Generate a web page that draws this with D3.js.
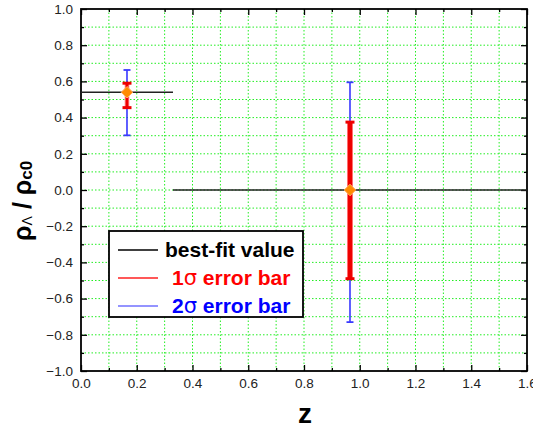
<!DOCTYPE html>
<html>
<head>
<meta charset="utf-8">
<script src="https://cdn.jsdelivr.net/npm/d3@7"></script>
<style>
  body { margin: 0; background: #fff; }
  svg { display: block; }
</style>
</head>
<body>
<svg width="533" height="429"></svg>
<script>
// best-fit values in two redshift bins
const binEdges = [[0.0, 0.33], [0.33, 1.6]]
const binValues = [0.54, 0.0]
// points with error bars
const pointZ = [0.165, 0.965]
const pointY = [0.54, 0.0]
const sigma1Lo = [0.455, -0.49]
const sigma1Hi = [0.59, 0.375]
const sigma2Lo = [0.302, -0.73]
const sigma2Hi = [0.663, 0.595]

const xTicks = d3.range(0, 1.61, 0.2)
const yTicks = d3.range(-1, 1.01, 0.2)

const svg = d3.select("svg")
const pLeft = 81, pRight = 527, pTop = 9, pBottom = 371

const x = d3.scaleLinear().domain([0, 1.6]).range([pLeft, pRight])
const y = d3.scaleLinear().domain([-1, 1]).range([pBottom, pTop])

// grid
const grid = svg.append("g")
d3.range(1, 16).forEach(i => {
    grid.append("line")
        .attr("x1", x(i / 10)).attr("x2", x(i / 10))
        .attr("y1", pTop).attr("y2", pBottom)
        .attr("stroke", "#22ee22").attr("stroke-width", 1)
        .attr("stroke-dasharray", "1.5,2")
})
d3.range(-9, 10).forEach(i => {
    grid.append("line")
        .attr("x1", pLeft).attr("x2", pRight)
        .attr("y1", y(i / 10)).attr("y2", y(i / 10))
        .attr("stroke", "#22ee22").attr("stroke-width", 1)
        .attr("stroke-dasharray", "1.5,2")
})

// axes with inward ticks
const fmt = d3.format(".1f")
function styleAxis(g) {
    g.select(".domain").remove()
    g.selectAll("line").attr("stroke", "#000").attr("stroke-width", 1.3)
    g.selectAll("text").attr("font-family", "Arial, Liberation Sans, sans-serif")
        .attr("font-size", 13.5).attr("fill", "#222")
}
const xMinor = d3.range(0.1, 1.6, 0.2)
const yMinor = d3.range(-0.9, 1.0, 0.2)

svg.append("g").attr("transform", `translate(0,${pBottom})`)
    .call(d3.axisBottom(x).tickValues(xTicks).tickFormat(fmt).tickSizeInner(-6).tickSizeOuter(0).tickPadding(7))
    .call(styleAxis)
svg.append("g").attr("transform", `translate(0,${pBottom})`)
    .call(d3.axisBottom(x).tickValues(xMinor).tickFormat("").tickSizeInner(-3).tickSizeOuter(0))
    .call(styleAxis)
svg.append("g").attr("transform", `translate(0,${pTop})`)
    .call(d3.axisTop(x).tickValues(xTicks).tickFormat("").tickSizeInner(-6).tickSizeOuter(0))
    .call(styleAxis)
svg.append("g").attr("transform", `translate(0,${pTop})`)
    .call(d3.axisTop(x).tickValues(xMinor).tickFormat("").tickSizeInner(-3).tickSizeOuter(0))
    .call(styleAxis)
svg.append("g").attr("transform", `translate(${pLeft},0)`)
    .call(d3.axisLeft(y).tickValues(yTicks).tickFormat(fmt).tickSizeInner(-6).tickSizeOuter(0).tickPadding(8))
    .call(styleAxis)
svg.append("g").attr("transform", `translate(${pLeft},0)`)
    .call(d3.axisLeft(y).tickValues(yMinor).tickFormat("").tickSizeInner(-3).tickSizeOuter(0))
    .call(styleAxis)
svg.append("g").attr("transform", `translate(${pRight},0)`)
    .call(d3.axisRight(y).tickValues(yTicks).tickFormat("").tickSizeInner(-6).tickSizeOuter(0))
    .call(styleAxis)
svg.append("g").attr("transform", `translate(${pRight},0)`)
    .call(d3.axisRight(y).tickValues(yMinor).tickFormat("").tickSizeInner(-3).tickSizeOuter(0))
    .call(styleAxis)

// frame
svg.append("rect")
    .attr("x", pLeft).attr("y", pTop)
    .attr("width", pRight - pLeft).attr("height", pBottom - pTop)
    .attr("fill", "none").attr("stroke", "#000").attr("stroke-width", 1.8)

// best-fit lines
binEdges.forEach((b, i) => {
    svg.append("line")
        .attr("x1", x(b[0])).attr("x2", x(b[1]))
        .attr("y1", y(binValues[i])).attr("y2", y(binValues[i]))
        .attr("stroke", "#222").attr("stroke-width", 1.5)
})

// error bars
pointZ.forEach((z, i) => {
    const cx = x(z)
    // 2 sigma
    svg.append("line")
        .attr("x1", cx).attr("x2", cx)
        .attr("y1", y(sigma2Lo[i])).attr("y2", y(sigma2Hi[i]))
        .attr("stroke", "#2a2aff").attr("stroke-width", 1.5)
    ;[sigma2Lo[i], sigma2Hi[i]].forEach(v => {
        svg.append("line")
            .attr("x1", cx - 3.5).attr("x2", cx + 3.5)
            .attr("y1", y(v)).attr("y2", y(v))
            .attr("stroke", "#3a3aff").attr("stroke-width", 1.8)
    })
    // 1 sigma
    const w = i === 1 ? 4 : 2.5
    svg.append("line")
        .attr("x1", cx).attr("x2", cx)
        .attr("y1", y(sigma1Lo[i])).attr("y2", y(sigma1Hi[i]))
        .attr("stroke", "#ff7070").attr("stroke-width", w + 2)
    svg.append("line")
        .attr("x1", cx).attr("x2", cx)
        .attr("y1", y(sigma1Lo[i])).attr("y2", y(sigma1Hi[i]))
        .attr("stroke", "#ee0000").attr("stroke-width", w)
    ;[sigma1Lo[i], sigma1Hi[i]].forEach(v => {
        svg.append("line")
            .attr("x1", cx - 4.5).attr("x2", cx + 4.5)
            .attr("y1", y(v)).attr("y2", y(v))
            .attr("stroke", "#ee0000").attr("stroke-width", 3)
    })
    // diamond marker
    svg.append("path")
        .attr("d", d3.symbol().type(d3.symbolDiamond2).size(85)())
        .attr("transform", `translate(${cx},${y(pointY[i])})`)
        .attr("fill", "#ff8c00").attr("stroke", "#ffb060").attr("stroke-width", 1)
})

// legend
const lg = svg.append("g")
lg.append("rect")
    .attr("x", 109).attr("y", 231).attr("width", 194).attr("height", 86)
    .attr("fill", "#fff").attr("stroke", "#000").attr("stroke-width", 1.8)
const legendItems = [
    { label: "best-fit value", line: "#000", text: "#000", sig: null },
    { label: " error bar", line: "#ff2020", text: "#ff0000", sig: "1" },
    { label: " error bar", line: "#7070ff", text: "#0000ff", sig: "2" }
]
legendItems.forEach((d, i) => {
    const ly = 250 + i * 28
    lg.append("line")
        .attr("x1", 118).attr("x2", 158).attr("y1", ly).attr("y2", ly)
        .attr("stroke", d.line).attr("stroke-width", 1.3)
    const t = lg.append("text")
        .attr("x", d.sig ? 172 : 165).attr("y", ly + 6.5)
        .attr("font-family", "Arial, Liberation Sans, sans-serif")
        .attr("font-size", 21).attr("font-weight", "bold")
        .attr("fill", d.text)
    if (d.sig) {
        t.append("tspan").text(d.sig)
        t.append("tspan").attr("font-weight", "normal").attr("font-family", "DejaVu Sans, sans-serif").text("σ")
        t.append("tspan").text(d.label)
    } else {
        t.text(d.label)
    }
})

// axis titles
svg.append("text")
    .attr("x", x(0.8) + 1).attr("y", 423)
    .attr("text-anchor", "middle")
    .attr("font-family", "Arial, Liberation Sans, sans-serif")
    .attr("font-size", 28).attr("font-weight", "bold")
    .text("z")

const yl = svg.append("text")
    .attr("transform", `translate(31,${y(-0.06)}) rotate(-90)`)
    .attr("text-anchor", "middle")
    .attr("font-family", "Liberation Sans, Arial, sans-serif")
    .attr("font-size", 25).attr("font-weight", "bold")
yl.append("tspan").text("ρ")
yl.append("tspan").attr("font-size", 14).attr("font-weight", "normal").attr("dy", 1).text("Λ")
yl.append("tspan").attr("dy", -1).text(" / ρ")
yl.append("tspan").attr("font-size", 17).attr("dy", 1).text("c0")
</script>
</body>
</html>
